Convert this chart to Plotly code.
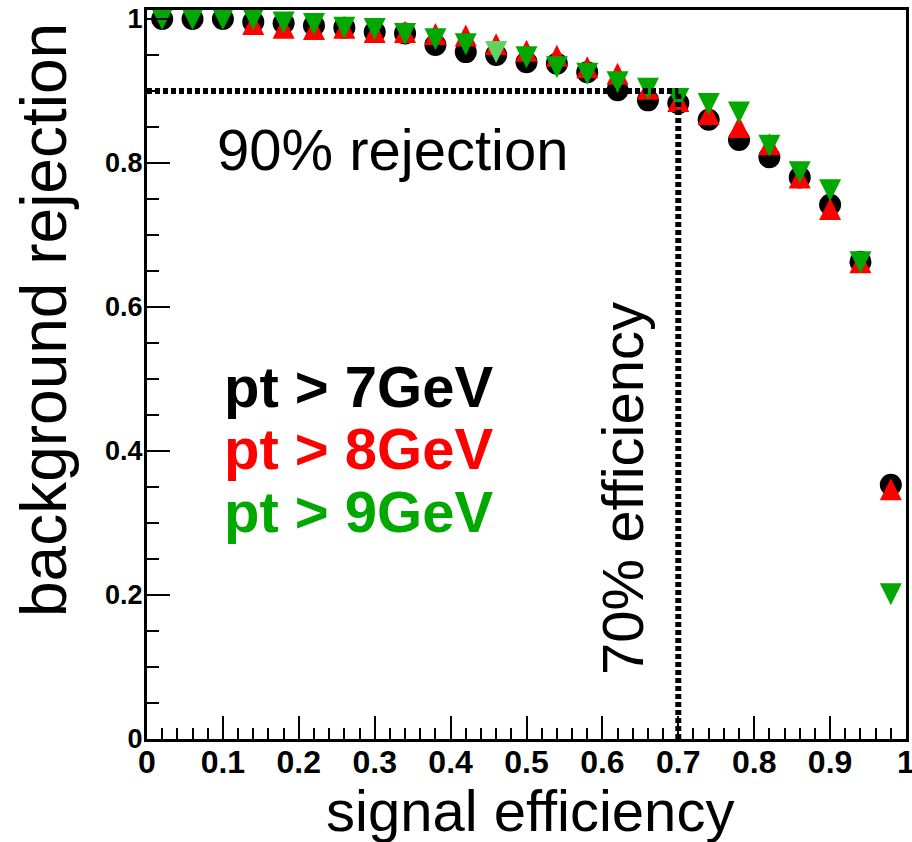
import plotly.graph_objects as go

# ---------------- data ----------------
efficiency = [0.02, 0.06, 0.10, 0.14, 0.18, 0.22, 0.26, 0.30, 0.34, 0.38, 0.42, 0.46, 0.50,
              0.54, 0.58, 0.62, 0.66, 0.70, 0.74, 0.78, 0.82, 0.86, 0.90, 0.94, 0.98]
rej_pt7 = [1.000, 1.000, 1.000, 0.996, 0.994, 0.991, 0.988, 0.982, 0.980, 0.964, 0.954, 0.950, 0.940,
           0.938, 0.926, 0.901, 0.887, 0.883, 0.860, 0.832, 0.808, 0.780, 0.742, 0.663, 0.353]
rej_pt8 = [1.000, 1.000, 1.000, 0.993, 0.988, 0.986, 0.988, 0.982, 0.982, 0.979, 0.977, 0.965, 0.956,
           0.949, 0.933, 0.924, 0.903, 0.886, 0.868, 0.850, 0.826, 0.780, 0.736, 0.662, 0.347]
rej_pt9 = [1.000, 1.000, 1.000, 1.000, 0.995, 0.993, 0.988, 0.986, 0.979, 0.972, 0.965, 0.954, 0.947,
           0.933, 0.924, 0.912, 0.903, 0.889, 0.882, 0.870, 0.824, 0.787, 0.762, 0.662, 0.201]
series_labels = ["pt > 7GeV", "pt > 8GeV", "pt > 9GeV"]
x_tick_vals = [0, 0.1, 0.2, 0.3, 0.4, 0.5, 0.6, 0.7, 0.8, 0.9, 1.0]
x_tick_text = ["0", "0.1", "0.2", "0.3", "0.4", "0.5", "0.6", "0.7", "0.8", "0.9", "1"]
y_tick_vals = [0, 0.2, 0.4, 0.6, 0.8, 1.0]
y_tick_text = ["0", "0.2", "0.4", "0.6", "0.8", "1"]
ref_efficiency = 0.7
ref_rejection = 0.9

# ---------------- style / geometry ----------------
W, H = 912, 842
L, R, T, B = 147, 6, 10, 103
PH = H - T - B
PW = W - L - R
Y_MAX = 1.0125
MARK = 22
shift = (MARK / 2) * Y_MAX / PH

BLACK = "#000000"
RED = "#ff0000"
GREEN = "#00a800"
GREEN_LIGHT = "#5fd35f"
green_colors = [GREEN] * len(rej_pt9)
green_colors[11] = GREEN_LIGHT

REG = "Liberation Sans, Arial, Helvetica, sans-serif"

fig = go.Figure()
fig.add_trace(go.Scatter(x=efficiency, y=rej_pt7, mode="markers", name=series_labels[0],
                         marker=dict(symbol="circle", size=MARK, color=BLACK, line=dict(width=0)),
                         cliponaxis=False, yaxis="y"))
fig.add_trace(go.Scatter(x=efficiency, y=rej_pt8, mode="markers", name=series_labels[1],
                         marker=dict(symbol="arrow-up", size=MARK, color=RED, line=dict(width=0)),
                         cliponaxis=False, yaxis="y2"))
fig.add_trace(go.Scatter(x=efficiency, y=rej_pt9, mode="markers", name=series_labels[2],
                         marker=dict(symbol="arrow-down", size=MARK, color=green_colors, line=dict(width=0)),
                         cliponaxis=False, yaxis="y3"))

dash = "5px,3px"
fig.add_shape(type="line", xref="x", yref="y", x0=0, x1=ref_efficiency, y0=ref_rejection, y1=ref_rejection,
              line=dict(color=BLACK, width=6, dash=dash), layer="above")
fig.add_shape(type="line", xref="x", yref="y", x0=ref_efficiency, x1=ref_efficiency, y0=0, y1=ref_rejection,
              line=dict(color=BLACK, width=6, dash=dash), layer="above")

axis_common = dict(showgrid=False, zeroline=False, showline=True, linecolor=BLACK, linewidth=3,
                   mirror=True, ticks="inside", ticklen=23, tickwidth=2, tickcolor=BLACK,
                   ticklabeloverflow="allow", automargin=False)

fig.update_layout(
    template="none",
    width=W, height=H,
    margin=dict(l=L, r=R, t=T, b=B, pad=0, autoexpand=False),
    paper_bgcolor="white", plot_bgcolor="white",
    showlegend=False,
    xaxis=dict(range=[0, 1], tickvals=x_tick_vals, ticktext=x_tick_text,
               tickfont=dict(family=REG, size=32, color=BLACK, weight="bold"),
               ticklabelstandoff=-7,
               minor=dict(dtick=0.02, tick0=0, ticks="inside", ticklen=11, tickwidth=2, tickcolor=BLACK,
                          showgrid=False),
               **axis_common),
    yaxis=dict(range=[0, Y_MAX], tickvals=y_tick_vals, ticktext=y_tick_text,
               tickfont=dict(family=REG, size=27, color=BLACK, weight="bold"),
               ticklabelstandoff=-4,
               minor=dict(dtick=0.05, tick0=0, ticks="inside", ticklen=12, tickwidth=2, tickcolor=BLACK,
                          showgrid=False),
               **axis_common),
    yaxis2=dict(overlaying="y", range=[-shift, Y_MAX - shift], visible=False),
    yaxis3=dict(overlaying="y", range=[shift, Y_MAX + shift], visible=False),
)

# text annotations
fig.add_annotation(text="90% rejection", xref="x", yref="y", x=(215 - L) / PW, y=(739 - 149) / 720,
                   xanchor="left", yanchor="middle", showarrow=False,
                   font=dict(family=REG, size=58, color=BLACK))
label_colors = [BLACK, RED, GREEN]
label_y_px = [386, 448, 511]
for lab, col, ypx in zip(series_labels, label_colors, label_y_px):
    fig.add_annotation(text=lab, xref="x", yref="y", x=(222 - L) / PW, y=(739 - ypx) / 720,
                       xanchor="left", yanchor="middle", showarrow=False,
                       font=dict(family=REG, size=58, color=col, weight="bold"))
fig.add_annotation(text="70% efficiency", xref="x", yref="y", x=(622 - L) / PW, y=(739 - 489) / 720,
                   xanchor="center", yanchor="middle", textangle=-90, showarrow=False,
                   font=dict(family=REG, size=58, color=BLACK))
fig.add_annotation(text="signal efficiency", xref="paper", yref="paper",
                   x=(530 - L) / PW, y=(739 - 810) / PH,
                   xanchor="center", yanchor="middle", showarrow=False,
                   font=dict(family=REG, size=58, color=BLACK))
fig.add_annotation(text="background rejection", xref="paper", yref="paper",
                   x=(44 - L) / PW, y=(739 - 320) / PH,
                   xanchor="center", yanchor="middle", textangle=-90, showarrow=False,
                   font=dict(family=REG, size=64, color=BLACK))

fig.write_html("out.html")
